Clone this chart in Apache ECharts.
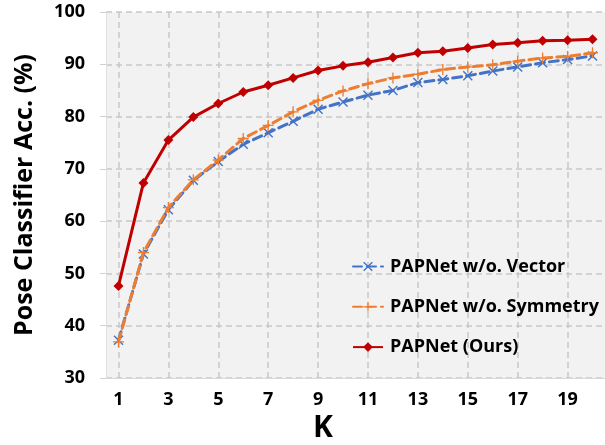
<!DOCTYPE html>
<html>
<head>
<meta charset="utf-8">
<script src="https://cdn.jsdelivr.net/npm/echarts@6/dist/echarts.min.js"></script>
<style>html,body{margin:0;padding:0;background:#fff}#c{width:605px;height:445px}</style>
</head>
<body>
<div id="c"></div>
<script>
const kValues = [1,2,3,4,5,6,7,8,9,10,11,12,13,14,15,16,17,18,19,20];
const kTickLabels = [1,3,5,7,9,11,13,15,17,19];
const vectorAcc = [37.2,53.7,62.2,67.8,71.4,74.7,76.9,79.1,81.4,82.8,84.1,85.0,86.5,87.1,87.8,88.7,89.5,90.3,90.9,91.6];
const symmetryAcc = [36.9,54.0,62.6,67.9,71.7,75.8,78.3,80.9,83.1,84.9,86.3,87.4,88.1,89.0,89.5,89.9,90.6,91.2,91.5,92.2];
const oursAcc = [47.6,67.3,75.5,79.9,82.5,84.7,86.0,87.4,88.8,89.7,90.4,91.3,92.2,92.5,93.1,93.8,94.1,94.5,94.6,94.8];
const seriesNames = ['PAPNet w/o. Vector','PAPNet w/o. Symmetry','PAPNet (Ours)'];

const pairs = arr => kValues.map((k,i)=>[k,arr[i]]);
const FONT = 'Open Sans';
const crossPath = 'path://M0,1 L1,0 L5,4 L9,0 L10,1 L6,5 L10,9 L9,10 L5,6 L1,10 L0,9 L4,5 Z';
const plusPath = 'path://M4.4,0 H5.6 V4.4 H10 V5.6 H5.6 V10 H4.4 V5.6 H0 V4.4 H4.4 Z';

const chart = echarts.init(document.getElementById('c'));
chart.setOption({
  animation: false,
  backgroundColor: '#fff',
  textStyle: {fontFamily: FONT},
  title: {
    text: 'K', left: 313, top: 413, padding: 0,
    textStyle: {fontFamily: FONT, fontWeight: 'bold', fontSize: 30, color: '#000'}
  },
  grid: {
    left: 106, right: -10.4, top: 12, bottom: 67,
    show: true, backgroundColor: '#f2f2f2', borderWidth: 0
  },
  legend: {
    orient: 'vertical', left: 352, top: 257, padding: 0,
    itemWidth: 30, itemHeight: 12, itemGap: 21.3,
    textStyle: {fontFamily: FONT, fontWeight: 'bold', fontSize: 18, color: '#000', lineHeight: 19, padding: [0,0,0,2]},
    data: seriesNames
  },
  xAxis: {
    type: 'value', min: 0.5, max: 20.5,
    axisLine: {show: true, lineStyle: {color: '#d9d9d9', width: 1}},
    axisTick: {show: false, customValues: kTickLabels},
    axisLabel: {customValues: kTickLabels, fontFamily: FONT, fontWeight: 'bold', fontSize: 18, color: '#000', margin: 13},
    splitLine: {show: true, lineStyle: {color: '#c8c8c8', width: 1.5, type: [6,4]}}
  },
  yAxis: {
    type: 'value', min: 30, max: 100, interval: 10,
    name: 'Pose Classifier Acc. (%)', nameLocation: 'middle', nameGap: 69,
    nameTextStyle: {fontFamily: FONT, fontWeight: 'bold', fontSize: 25, color: '#000'},
    axisLine: {show: true, lineStyle: {color: '#e0e0e0', width: 1}},
    axisTick: {show: true, length: 6, lineStyle: {color: '#d0d0d0'}},
    axisLabel: {fontFamily: FONT, fontWeight: 'bold', fontSize: 18, color: '#000', margin: 21},
    splitLine: {show: true, lineStyle: {color: '#c8c8c8', width: 1.5, type: [6,4]}}
  },
  series: [
    {
      name: seriesNames[0], type: 'line', data: pairs(vectorAcc),
      color: '#4472C4', symbol: crossPath, symbolSize: 10,
      lineStyle: {width: 3, type: [9,5], cap: 'round'}, z: 3
    },
    {
      name: seriesNames[1], type: 'line', data: pairs(symmetryAcc),
      color: '#ED7D31', symbol: plusPath, symbolSize: 11,
      lineStyle: {width: 3, type: [9,5], cap: 'round'}, z: 4
    },
    {
      name: seriesNames[2], type: 'line', data: pairs(oursAcc),
      color: '#C00000', symbol: 'diamond', symbolSize: 10,
      lineStyle: {width: 3}, z: 5
    }
  ]
});
</script>
</body>
</html>
